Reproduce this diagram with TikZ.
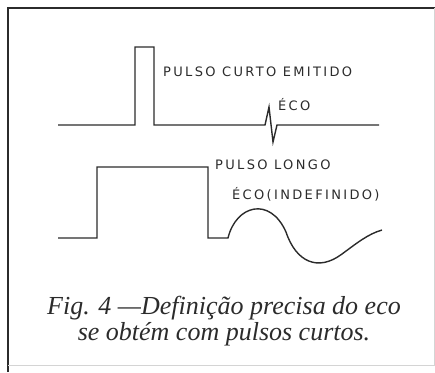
\documentclass[tikz,border=0pt]{standalone}
\usepackage{fontspec}
\setmainfont{Liberation Serif}
\newfontfamily\lblfont[LetterSpace=18]{DejaVu Sans}
\usetikzlibrary{positioning}
\definecolor{inkgray}{HTML}{2B2B2B}
\definecolor{edgegray}{HTML}{D4D4D4}

\tikzset{
  trace/.style={draw=inkgray, line width=1.4pt, line join=miter},
  frameline/.style={draw=inkgray, line width=1.3pt},
  lbl/.style={font=\lblfont\fontsize{13}{15}\selectfont, text=inkgray, inner sep=0pt},
  caption/.style={font=\itshape\fontsize{26}{26}\selectfont, text=inkgray, align=center, inner sep=0pt}
}

\begin{document}
\begin{tikzpicture}[x=1pt, y=-1pt]
  \useasboundingbox (0,0) rectangle (435,372);
  % Frame
  \draw[frameline] (8,372) -- (8,8) -- (435,8);
  \draw[edgegray, line width=0.8pt] (8,365) -- (435,365);
  \draw[edgegray, line width=0.8pt] (434,8) -- (434,365);
  % Short pulse with sharp echo
  \draw[trace] (58,125) -- (135,125) -- (135,47) -- (154,47) -- (154,125)
    -- (265,125) -- (269,107) -- (273,142) -- (277,125) -- (379,125);
  % Long pulse with undefined echo
  \draw[trace] (58,238) -- (97,238) -- (97,167) -- (208,167) -- (208,238) -- (228,238)
    .. controls (236,205) and (270,196) .. (286,232)
    .. controls (296,262) and (318,272) .. (342,254)
    .. controls (357,243) and (368,234) .. (382,230);
  % Labels
  \node[lbl, anchor=west] (curto) at (163,72) {PULSO CURTO EMITIDO};
  \node[lbl, anchor=west] (ecocurto) at (278,105) {ÉCO};
  \node[lbl, anchor=west] (longo) at (215,165) {PULSO LONGO};
  \node[lbl, anchor=west] (ecolongo) at (232,194) {ÉCO(INDEFINIDO)};
  % Caption
  \node[caption] (legenda) at (224,321) {Fig. 4 —Definição precisa do eco\\se obtém com pulsos curtos.};
\end{tikzpicture}
\end{document}
